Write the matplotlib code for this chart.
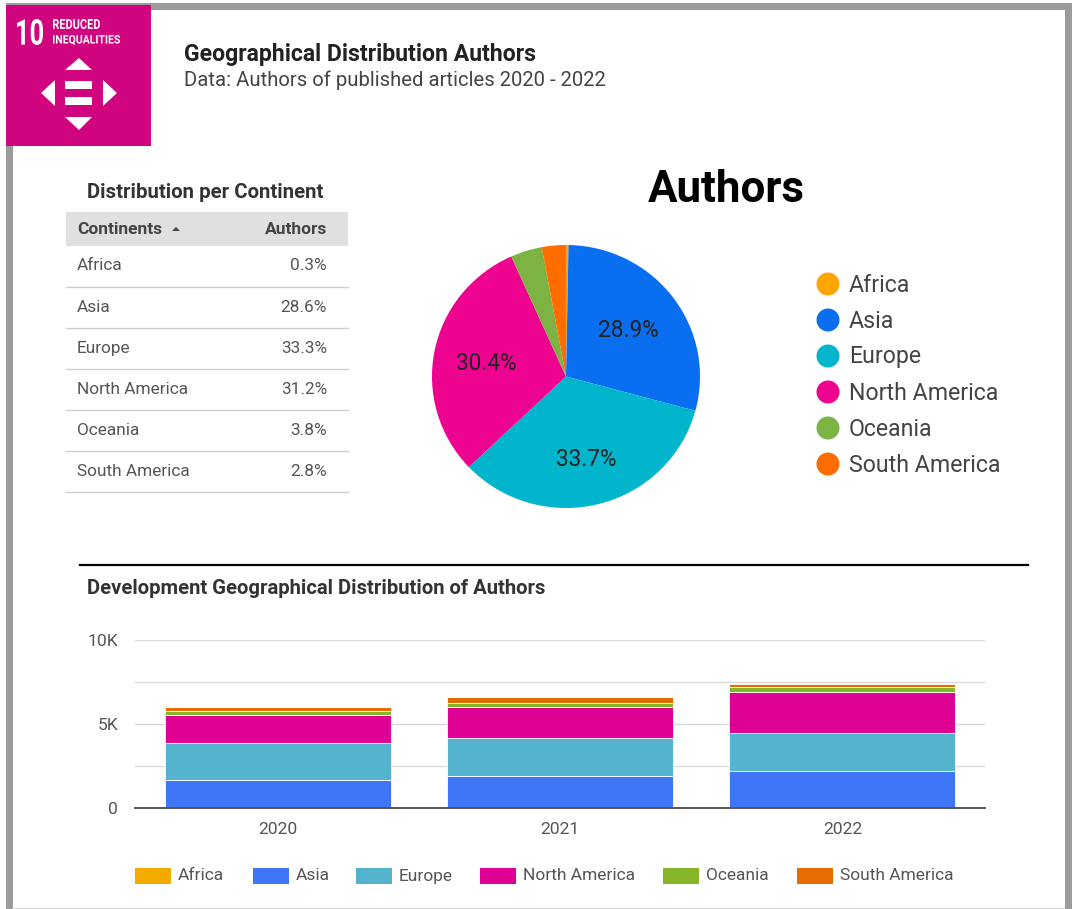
import matplotlib
matplotlib.use('Agg')
import numpy as np
from matplotlib import pyplot as plt
from matplotlib.patches import Rectangle, Polygon, Circle, PathPatch
from matplotlib.textpath import TextPath
from matplotlib.font_manager import FontProperties
from matplotlib.transforms import Affine2D

plt.rcParams['font.family'] = ['Roboto', 'DejaVu Sans']

W, H = 1072, 909

continents = ['Africa', 'Asia', 'Europe', 'North America', 'Oceania', 'South America']
table_values = ['0.3%', '28.6%', '33.3%', '31.2%', '3.8%', '2.8%']
pie_values = [0.3, 28.9, 33.7, 30.4, 3.8, 2.9]
pie_colors = ['#FFA600', '#0A6EF0', '#00B5CC', '#EE0290', '#7CB342', '#FF6D00']

years = ['2020', '2021', '2022']
asia = [1650, 1900, 2200]
europe = [2230, 2265, 2265]
north_america = [1680, 1845, 2440]
oceania = [230, 230, 295]
south_america = [210, 340, 190]
africa = [40, 20, 40]
bar_colors = ['#F4AB00', '#3F75F7', '#54B4CE', '#DF0094', '#86B42B', '#E66C00']

y_ticks = [0, 2500, 5000, 7500, 10000]
y_labels = ['0', '', '5K', '', '10K']

fig = plt.figure(figsize=(W / 100, H / 100), dpi=100, facecolor='white')

# whole figure axes in pixels for the frame, logo, table and legends
bg = fig.add_axes([0, 0, 1, 1])
bg.set_xlim(0, W)
bg.set_ylim(H, 0)
bg.axis('off')

gray = '#9B9B9B'
bg.add_patch(Rectangle((6, 3), 1066, 7, color=gray, lw=0))
bg.add_patch(Rectangle((6, 3), 6.5, 906, color=gray, lw=0))
bg.add_patch(Rectangle((1065, 3), 7, 906, color=gray, lw=0))
bg.add_patch(Rectangle((12, 907.5), 1053, 1.5, color='#D2D2D2', lw=0))


def squeezed(s, x0, x1, y0, y1):
    # logo lettering is condensed, so fit the outline into a box
    p = TextPath((0, 0), s, size=10, prop=FontProperties(family='Roboto', weight='bold'))
    e = p.get_extents()
    t = (Affine2D().translate(-e.x0, -e.y0)
         .scale((x1 - x0) / e.width, -(y1 - y0) / e.height)
         .translate(x0, y1))
    bg.add_patch(PathPatch(p.transformed(t), color='white', lw=0))


# logo
bg.add_patch(Rectangle((6, 5), 145, 141, color='#D0047F', lw=0))
squeezed('10', 17, 43, 19, 45)
squeezed('REDUCED', 53, 100, 19, 29)
squeezed('INEQUALITIES', 53, 120, 35, 45)
bg.add_patch(Polygon([[65, 70], [92, 70], [79, 58]], color='white', lw=0))
bg.add_patch(Polygon([[65, 117], [92, 117], [79, 130]], color='white', lw=0))
bg.add_patch(Polygon([[55, 80], [55, 106], [41, 93]], color='white', lw=0))
bg.add_patch(Polygon([[103, 80], [103, 106], [117, 93]], color='white', lw=0))
bg.add_patch(Rectangle((65, 81), 27, 8, color='white', lw=0))
bg.add_patch(Rectangle((65, 97), 27, 8, color='white', lw=0))

# heading
bg.text(184, 55, 'Geographical Distribution Authors', fontsize=16.6, fontweight='bold',
        color='#222222', va='center')
bg.text(184, 80, 'Data: Authors of published articles 2020 - 2022', fontsize=14.6,
        color='#444444', va='center')
bg.text(726, 190, 'Authors', fontsize=31.6, fontweight='bold', color='black', ha='center', va='center')

# table
bg.text(205, 192, 'Distribution per Continent', fontsize=14.7, fontweight='bold', color='#333333',
        ha='center', va='center')
bg.add_patch(Rectangle((66, 212), 282, 34, color='#E0E0E0', lw=0))
bg.text(77, 229, 'Continents', fontsize=12.5, fontweight='bold', color='#444444', va='center')
bg.add_patch(Polygon([[172, 231], [180, 231], [176, 227]], color='#444444', lw=0))
bg.text(327, 229, 'Authors', fontsize=12.5, fontweight='bold', color='#444444', ha='right', va='center')
for i, (name, val) in enumerate(zip(continents, table_values)):
    y = 266 + i * 41.1
    bg.text(77, y, name, fontsize=12.4, color='#555555', va='center')
    bg.text(327, y, val, fontsize=12.4, color='#555555', ha='right', va='center')
    bg.plot([66, 348], [y + 20.5, y + 20.5], color='#CFCFCF', lw=1)

# pie legend
for i, (name, c) in enumerate(zip(continents, pie_colors)):
    y = 284 + i * 36
    bg.add_patch(Circle((828, y), 11.5, color=c, lw=0))
    bg.text(849, y + 1, name, fontsize=16.7, color='#444444', va='center')

# divider
bg.plot([80, 1028], [565, 565], color='black', lw=1.6)
bg.text(87, 589, 'Development Geographical Distribution of Authors', fontsize=14.6,
        fontweight='bold', color='#333333', va='center')

# pie
ax_pie = fig.add_axes([432 / W, 1 - 508 / H, 268 / W, 263 / H])
wedges, texts, pcts = ax_pie.pie(pie_values, colors=pie_colors, startangle=90, counterclock=False,
                                 radius=1, pctdistance=0.6,
                                 autopct=lambda p: '%.1f%%' % p if p > 5 else '',
                                 textprops={'fontsize': 16.3, 'color': '#222222'})
ax_pie.set_aspect('auto')
ax_pie.set_xlim(-1, 1)
ax_pie.set_ylim(-1, 1)
# nudge the three visible labels, in pixels
for t, (dx, dy) in zip([pcts[1], pcts[2], pcts[3]], [(-2, -1), (1, -7), (-1, -2)]):
    px, py = t.get_position()
    t.set_position((px + dx / 134, py + dy / 131.5))

# stacked bars
ax = fig.add_axes([135 / W, 1 - 808 / H, 850 / W, 168 / H])
x = np.arange(len(years))
series = [asia, europe, north_america, oceania, south_america, africa]
order = [1, 2, 3, 4, 5, 0]
bottom = np.zeros(3)
for s, k in zip(series, order):
    ax.bar(x, s, 0.8, bottom=bottom, color=bar_colors[k], edgecolor='white', linewidth=0.6, zorder=3)
    bottom += np.array(s)
ax.set_xlim(-0.505, 2.505)
ax.set_ylim(0, 10000)
ax.set_yticks(y_ticks)
ax.set_yticklabels(y_labels, fontsize=12.6, color='#555555')
ax.set_xticks(x)
ax.set_xticklabels(years, fontsize=12.6, color='#555555')
ax.tick_params(length=0, pad=12, axis='y')
ax.tick_params(length=0, pad=10, axis='x')
ax.grid(axis='y', color='#D9D9D9', lw=1, zorder=0)
ax.set_axisbelow(True)
for side in ['top', 'right', 'left']:
    ax.spines[side].set_visible(False)
ax.spines['bottom'].set_color('#555555')
ax.spines['bottom'].set_linewidth(1.4)
ax.spines['bottom'].set_zorder(5)

# bar legend
swatch_x = [135, 253, 356, 480, 663, 797]
for sx, name, c in zip(swatch_x, continents, bar_colors):
    bg.add_patch(Rectangle((sx, 868), 36, 16, color=c, lw=0))
    bg.text(sx + 43, 876, name, fontsize=12.5, color='#555555', va='center')

fig.savefig('out.png', dpi=100)
